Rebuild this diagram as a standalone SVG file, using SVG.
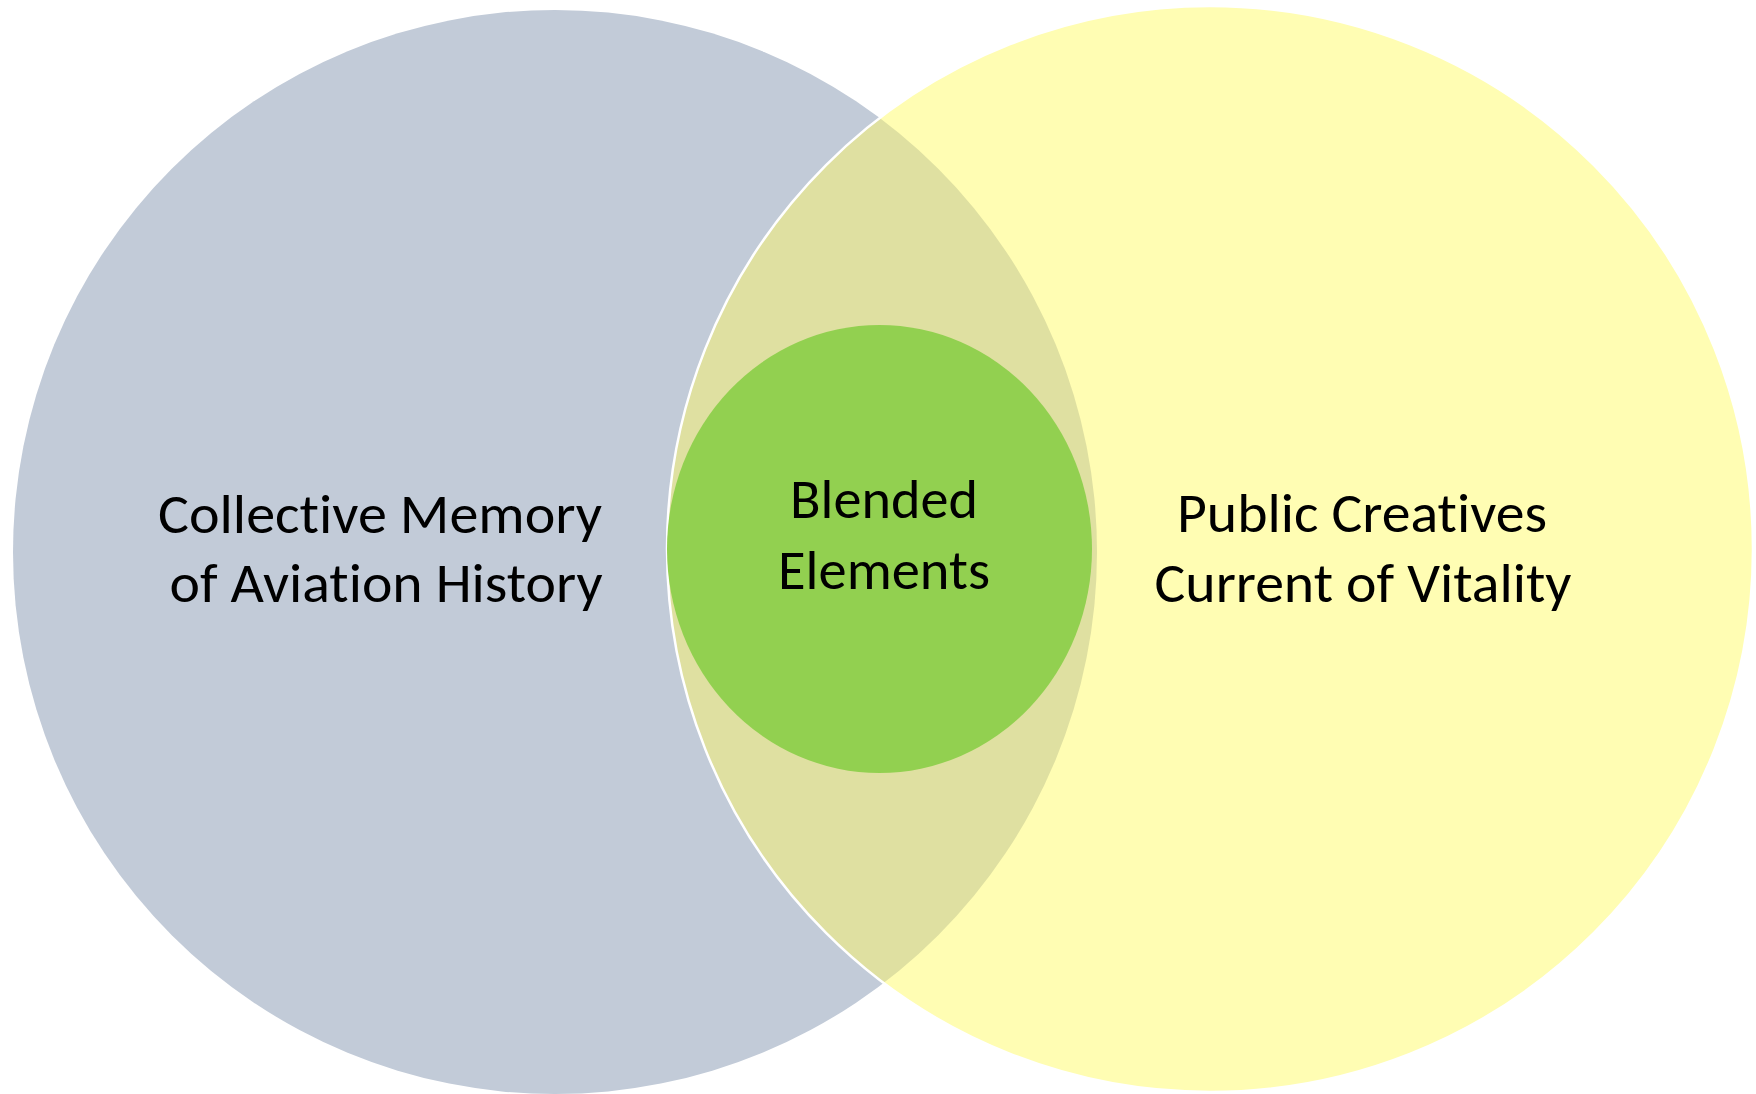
<svg xmlns="http://www.w3.org/2000/svg" width="1756" height="1094" viewBox="0 0 1756 1094">
  <style>
    .lbl { font-family: Carlito, Calibri, Lato, "Open Sans", sans-serif; font-size: 55px; fill: #000000; text-anchor: middle; font-variant-ligatures: none; font-feature-settings: "liga" 0, "clig" 0; }
  </style>
  <defs>
    <clipPath id="clipLeft">
      <circle cx="555" cy="552" r="542"/>
    </clipPath>
  </defs>
  <rect x="0" y="0" width="1756" height="1094" fill="#ffffff"/>
  <g id="left-circle">
    <circle cx="555" cy="552" r="542" fill="#C2CBD8"/>
  </g>
  <g id="right-circle">
    <circle cx="1210" cy="549" r="543" fill="#FFFDB3"/>
  </g>
  <g id="overlap">
    <circle cx="1210" cy="549" r="543" fill="#DFE0A1" clip-path="url(#clipLeft)"/>
    <circle cx="1210" cy="549" r="543" fill="none" stroke="#ffffff" stroke-width="2.5"/>
  </g>
  <g id="center-circle">
    <ellipse cx="879.5" cy="549" rx="212.5" ry="224" fill="#92D050"/>
  </g>
  <g id="connectors"></g>
  <g id="labels">
    <text class="lbl" x="380" y="533" textLength="444" lengthAdjust="spacingAndGlyphs">Collective Memory</text>
    <text class="lbl" x="386" y="602" textLength="433" lengthAdjust="spacingAndGlyphs">of Aviation History</text>
    <text class="lbl" x="1362" y="532" textLength="370" lengthAdjust="spacingAndGlyphs">Public Creatives</text>
    <text class="lbl" x="1363" y="602" textLength="417" lengthAdjust="spacingAndGlyphs">Current of Vitality</text>
    <text class="lbl" x="884" y="518" textLength="188" lengthAdjust="spacingAndGlyphs">Blended</text>
    <text class="lbl" x="884" y="589" textLength="212" lengthAdjust="spacingAndGlyphs">Elements</text>
  </g>
</svg>
